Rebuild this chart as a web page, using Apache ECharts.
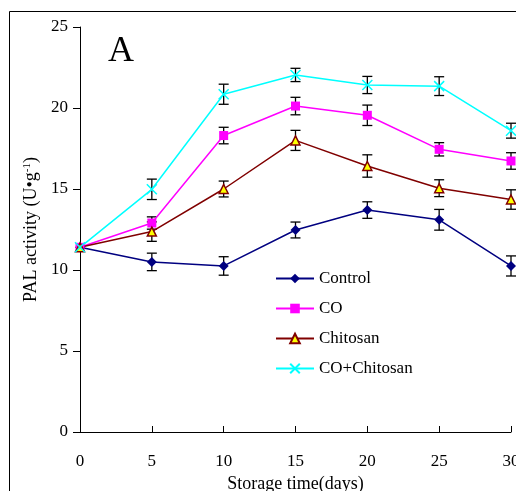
<!DOCTYPE html>
<html>
<head>
<meta charset="utf-8">
<script src="https://cdn.jsdelivr.net/npm/echarts@6/dist/echarts.min.js"></script>
<style>
  html, body { margin: 0; padding: 0; background: #fff; }
  #main { width: 516px; height: 491px; }
</style>
</head>
<body>
<div id="main"></div>
<script>
const days = [0, 5, 10, 15, 20, 25, 30];

const control = [11.4, 10.5, 10.25, 12.47, 13.7, 13.1, 10.25];
const controlErr = [0, 0.54, 0.57, 0.49, 0.51, 0.64, 0.62];

const co = [11.4, 12.9, 18.3, 20.12, 19.55, 17.45, 16.73];
const coErr = [0, 0.38, 0.51, 0.54, 0.63, 0.41, 0.51];

const chitosan = [11.4, 12.37, 15.0, 18.0, 16.42, 15.05, 14.35];
const chitosanErr = [0, 0.6, 0.49, 0.62, 0.69, 0.52, 0.6];

const coChitosan = [11.4, 14.98, 20.85, 22.04, 21.42, 21.35, 18.6];
const coChitosanErr = [0, 0.63, 0.62, 0.41, 0.53, 0.58, 0.46];

const serif = '"Liberation Serif", "Times New Roman", serif';

const myChart = echarts.init(document.getElementById('main'));

function pairs(vals) {
  return days.map((d, i) => [d, vals[i]]);
}

function errData(vals, errs) {
  return days.map((d, i) => [d, vals[i], errs[i]]);
}

// error bars drawn through the axes' own coordinate system
function errorBar(vals, errs) {
  return {
    type: 'custom',
    silent: true,
    z: 1,
    data: errData(vals, errs),
    renderItem: function (params, api) {
      const x = api.value(0);
      const v = api.value(1);
      const e = api.value(2);
      if (!e) return null;
      const top = api.coord([x, v + e]);
      const bot = api.coord([x, v - e]);
      const w = 5;
      const style = { stroke: '#000', lineWidth: 1.3 };
      return {
        type: 'group',
        children: [
          { type: 'line', shape: { x1: top[0], y1: top[1], x2: bot[0], y2: bot[1] }, style: style },
          { type: 'line', shape: { x1: top[0] - w, y1: top[1], x2: top[0] + w, y2: top[1] }, style: style },
          { type: 'line', shape: { x1: bot[0] - w, y1: bot[1], x2: bot[0] + w, y2: bot[1] }, style: style }
        ]
      };
    }
  };
}

const option = {
  backgroundColor: '#fff',
  animation: false,
  textStyle: { fontFamily: serif },
  grid: {
    left: 80,
    right: 5,
    top: 27,
    bottom: 59,
    containLabel: false,
    outerBoundsMode: 'none'
  },
  graphic: [
    {
      type: 'rect',
      shape: { x: 9.5, y: 11.5, width: 700, height: 700 },
      style: { fill: 'none', stroke: '#000', lineWidth: 1 },
      z: 0
    },
    {
      type: 'text',
      left: 108,
      top: 34,
      style: { text: 'A', font: '36px ' + serif, fill: '#000' }
    }
  ],
  legend: {
    orient: 'vertical',
    left: 275,
    top: 270,
    padding: 0,
    itemWidth: 38,
    itemHeight: 12,
    itemGap: 13,
    textStyle: { fontFamily: serif, fontSize: 17, color: '#000' },
    data: ['Control', 'CO', 'Chitosan', 'CO+Chitosan']
  },
  xAxis: {
    type: 'value',
    min: 0,
    max: 30,
    interval: 5,
    name: 'Storage time(days)',
    nameLocation: 'middle',
    nameGap: 43,
    nameTextStyle: { fontFamily: serif, fontSize: 18, color: '#000' },
    axisLine: { lineStyle: { color: '#000', width: 1 } },
    axisTick: { inside: true, length: 6, lineStyle: { color: '#000' } },
    axisLabel: { fontFamily: serif, fontSize: 17, color: '#000', margin: 21, showMaxLabel: true },
    splitLine: { show: false }
  },
  yAxis: {
    type: 'value',
    min: 0,
    max: 25,
    interval: 5,
    name: '{n|PAL activity (U•g}{s|-1}{n|)}',
    nameLocation: 'middle',
    nameGap: 40,
    nameTextStyle: {
      rich: {
        n: { fontFamily: serif, fontSize: 18, color: '#000' },
        s: { fontFamily: serif, fontSize: 11, color: '#000', verticalAlign: 'top' }
      }
    },
    axisLine: { show: true, lineStyle: { color: '#000', width: 1 } },
    axisTick: { show: true, length: 7, lineStyle: { color: '#000' } },
    axisLabel: { fontFamily: serif, fontSize: 17, color: '#000', margin: 12 },
    splitLine: { show: false }
  },
  series: [
    errorBar(control, controlErr),
    errorBar(co, coErr),
    errorBar(chitosan, chitosanErr),
    errorBar(coChitosan, coChitosanErr),
    {
      name: 'Control',
      type: 'line',
      z: 3,
      data: pairs(control),
      symbol: 'diamond',
      symbolSize: 10,
      lineStyle: { color: '#000080', width: 1.5 },
      itemStyle: { color: '#000080' }
    },
    {
      name: 'CO',
      type: 'line',
      z: 3,
      data: pairs(co),
      symbol: 'rect',
      symbolSize: 9,
      lineStyle: { color: '#ff00ff', width: 1.5 },
      itemStyle: { color: '#ff00ff' }
    },
    {
      name: 'Chitosan',
      type: 'line',
      z: 3,
      data: pairs(chitosan),
      symbol: 'triangle',
      symbolSize: 9,
      lineStyle: { color: '#800000', width: 1.5 },
      itemStyle: { color: '#ffff00', borderColor: '#800000', borderWidth: 1.5 }
    },
    {
      name: 'CO+Chitosan',
      type: 'line',
      z: 3,
      data: pairs(coChitosan),
      symbol: 'path://M0,0L10,10M10,0L0,10',
      symbolSize: 10,
      lineStyle: { color: '#00ffff', width: 1.5 },
      itemStyle: { color: 'none', borderColor: '#00ffff', borderWidth: 1.5 }
    }
  ]
};

myChart.setOption(option);
</script>
</body>
</html>
